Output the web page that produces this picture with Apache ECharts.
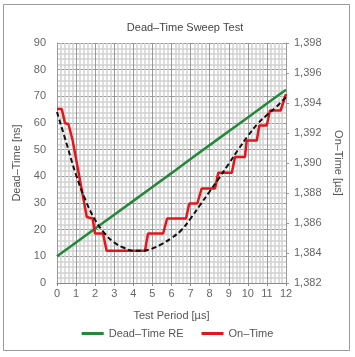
<!DOCTYPE html>
<html><head><meta charset="utf-8">
<script src="https://cdn.jsdelivr.net/npm/echarts@6/dist/echarts.min.js"></script>
<style>html,body{margin:0;padding:0;background:#fff}#c{width:355px;height:357px}</style>
</head><body><div id="c"></div>
<script>
// Dead-Time RE (left axis, ns)
const greenX = [0,1,2,3,4,5,6,7,8,9,10,11,12];
const greenY = [10,15.2,20.4,25.6,30.8,36.0,41.2,46.5,51.7,56.9,62.1,67.3,72.5];
// On-Time (right axis, us)
const redX = [0,0.25,0.42,0.6,0.82,1.56,1.62,1.87,1.99,2.41,2.6,4.61,4.77,5.56,5.77,6.76,6.93,7.35,7.58,8.28,8.45,9.16,9.33,9.85,9.94,10.47,10.6,10.99,11.16,11.72,12];
const redY = [1393.6,1393.6,1392.65,1392.6,1391.5,1386.4,1386.3,1386.3,1385.3,1385.3,1384.15,1384.15,1385.3,1385.3,1386.3,1386.3,1387.3,1387.3,1388.3,1388.3,1389.35,1389.35,1390.4,1390.4,1391.5,1391.5,1392.5,1392.5,1393.5,1393.5,1394.6];
// Trend (dashed, right axis)
const trendX = [0,0.5,1,1.5,2,2.5,3,3.5,4,4.5,5,5.5,6,6.5,7,7.5,8,8.5,9,9.5,10,10.5,11,11.5,12];
const trendY = [1393.4,1391.3,1389.2,1387.5,1386.2,1385.3,1384.7,1384.35,1384.15,1384.15,1384.3,1384.6,1385.0,1385.5,1386.3,1387.2,1388.1,1389.0,1389.95,1390.9,1391.8,1392.6,1393.2,1393.75,1394.4];
const xTicks = {min:0, max:12, step:1};
const leftTicks = {min:0, max:90, step:10};
const rightTicks = {min:1382, max:1398, step:2};

const zip = (a,b)=>a.map((v,i)=>[v,b[i]]);
const FONT = 'Liberation Sans';
const chart = echarts.init(document.getElementById('c'), null, {renderer:'canvas'});
chart.setOption({
  animation:false,
  textStyle:{fontFamily:FONT},
  title:{text:'Dead\u2013Time Sweep Test', left:180, textAlign:'center', top:17,
    textStyle:{fontSize:11, fontWeight:'normal', color:'#444', fontFamily:FONT}},
  graphic:[{type:'rect', shape:{x:3.5,y:4.5,width:346,height:346}, style:{fill:null, stroke:'#999', lineWidth:1}, silent:true}],
  grid:{left:57, right:69, top:43, bottom:74},
  legend:{bottom:13, left:'center', itemWidth:22, itemHeight:3, icon:'rect', itemGap:18,
    data:['Dead\u2013Time RE','On\u2013Time'],
    textStyle:{fontSize:11, color:'#555', fontFamily:FONT}},
  xAxis:{type:'value', min:xTicks.min, max:xTicks.max, interval:xTicks.step,
    name:'Test Period [\u00b5s]', nameLocation:'middle', nameGap:27,
    nameTextStyle:{fontSize:11, color:'#555'},
    axisLine:{show:true, lineStyle:{color:'#888'}},
    axisTick:{show:true, length:3, lineStyle:{color:'#888'}},
    axisLabel:{fontSize:11, color:'#666', margin:5},
    splitLine:{show:true, lineStyle:{color:'#999', width:1}},
    minorTick:{show:false, splitNumber:5},
    minorSplitLine:{show:true, lineStyle:{color:'#d2d2d2', width:1.5}}},
  yAxis:[{type:'value', min:leftTicks.min, max:leftTicks.max, interval:leftTicks.step,
    name:'Dead\u2013Time [ns]', nameLocation:'middle', nameGap:30,
    nameTextStyle:{fontSize:11, color:'#555'},
    axisLine:{show:true, lineStyle:{color:'#999'}},
    axisTick:{show:false},
    axisLabel:{fontSize:11, color:'#666', margin:11},
    splitLine:{show:true, lineStyle:{color:'#999', width:1}},
    minorTick:{show:false, splitNumber:5},
    minorSplitLine:{show:true, lineStyle:{color:'#d2d2d2', width:1.5}}},
   {type:'value', min:rightTicks.min, max:rightTicks.max, interval:rightTicks.step, position:'right',
    name:'On\u2013Time [\u00b5s]', nameLocation:'middle', nameGap:40, nameRotate:-90,
    nameTextStyle:{fontSize:11, color:'#555'},
    axisLine:{show:true, lineStyle:{color:'#999'}},
    axisTick:{show:true, length:3, lineStyle:{color:'#999'}},
    axisLabel:{fontSize:11, color:'#666', margin:8,
      formatter:v=>String(v).replace(/(\d)(\d{3})$/,'$1,$2')},
    splitLine:{show:false}}],
  series:[
    {name:'Dead\u2013Time RE', type:'line', yAxisIndex:0, data:zip(greenX,greenY), showSymbol:false, symbol:'none',
     lineStyle:{color:'#23883a', width:2.5}, itemStyle:{color:'#23883a'}, z:3},
    {name:'On\u2013Time', type:'line', yAxisIndex:1, data:zip(redX,redY), showSymbol:false, symbol:'none',
     lineStyle:{color:'#e4161c', width:2.5}, itemStyle:{color:'#e4161c'}, z:4},
    {name:'trend', type:'line', yAxisIndex:1, data:zip(trendX,trendY), showSymbol:false, symbol:'none', smooth:0.4,
     lineStyle:{color:'#111', width:2, type:[5,3]}, itemStyle:{color:'#111'}, z:5}
  ]
});
</script></body></html>
